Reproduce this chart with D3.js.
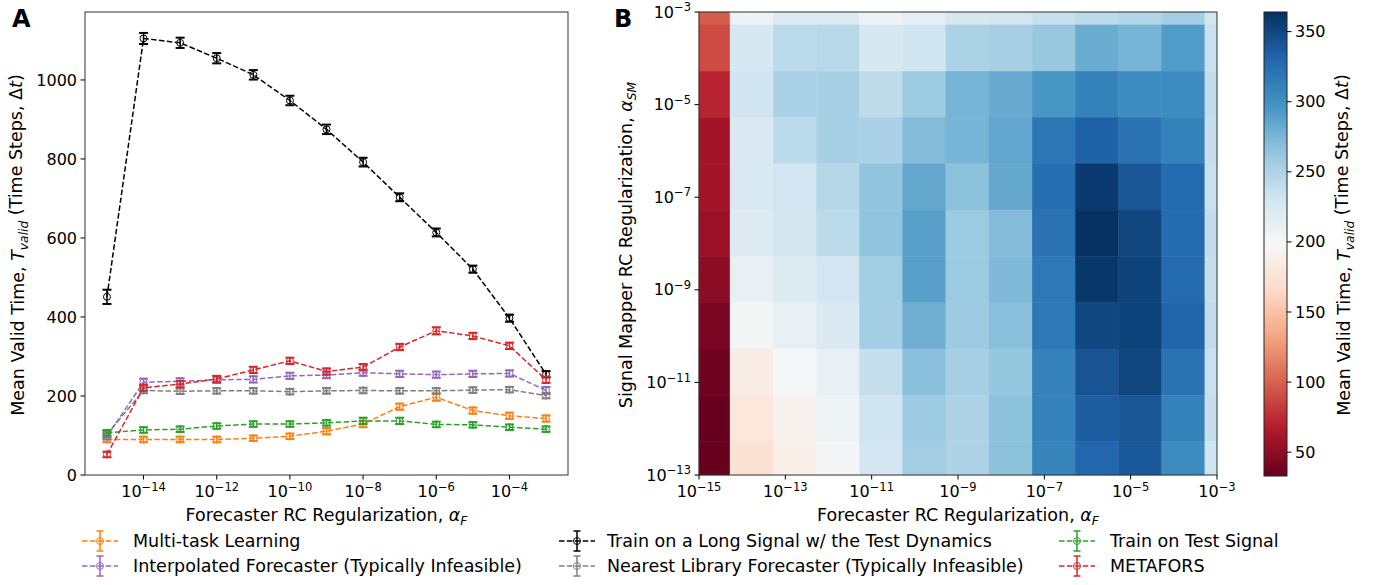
<!DOCTYPE html>
<html>
<head>
<meta charset="utf-8">
<script src="https://cdn.jsdelivr.net/npm/d3@7"></script>
<style>
  body { margin: 0; background: #fff; }
  text { font-family: "DejaVu Sans", sans-serif; fill: #000; }
</style>
</head>
<body>
<script>
// forecaster regularization exponents (alpha_F = 10^e)
const alphaExp = [-15, -14, -13, -12, -11, -10, -9, -8, -7, -6, -5, -4, -3];

// panel A series (mean valid time) and error bars
const multiTask = [90, 90, 90, 90, 93, 98, 111, 129, 173, 197, 163, 150, 143];
const multiTaskErr = [7, 7, 7, 7, 7, 7, 8, 8, 8, 9, 8, 8, 8];
const interpolated = [98, 235, 237, 241, 242, 251, 253, 259, 256, 254, 256, 257, 214];
const interpolatedErr = [8, 9, 8, 8, 8, 8, 8, 8, 8, 8, 8, 8, 9];
const longSignal = [451, 1105, 1094, 1055, 1013, 948, 875, 792, 703, 614, 521, 397, 255];
const longSignalErr = [18, 14, 13, 13, 12, 12, 12, 11, 10, 10, 9, 9, 8];
const nearestLib = [103, 214, 212, 213, 213, 211, 213, 214, 213, 213, 215, 216, 201];
const nearestLibErr = [8, 7, 7, 7, 7, 7, 7, 7, 7, 7, 7, 7, 7];
const testSignal = [107, 114, 116, 124, 129, 129, 132, 137, 137, 128, 127, 121, 116];
const testSignalErr = [7, 7, 7, 7, 7, 7, 7, 8, 8, 7, 7, 7, 7];
const metafors = [52, 221, 230, 243, 266, 289, 262, 273, 324, 365, 352, 327, 241];
const metaforsErr = [7, 8, 8, 8, 8, 8, 8, 8, 8, 9, 8, 8, 8];

const seriesNames = [
  'Multi-task Learning',
  'Interpolated Forecaster (Typically Infeasible)',
  'Train on a Long Signal w/ the Test Dynamics',
  'Nearest Library Forecaster (Typically Infeasible)',
  'Train on Test Signal',
  'METAFORS'
];
const seriesColors = ['#ff7f0e', '#9467bd', '#000000', '#7f7f7f', '#2ca02c', '#d62728'];
const yTicksA = [0, 200, 400, 600, 800, 1000];
const xTicksA = [-14, -12, -10, -8, -6, -4];

// panel B: signal mapper exponents (rows, top to bottom) and heat values
const smExp = [-3, -4, -5, -6, -7, -8, -9, -10, -11, -12, -13];
const heat = [
  [98, 207, 222, 222, 208, 215, 226, 230, 237, 243, 248, 255, 230],
  [90, 227, 243, 245, 226, 232, 251, 254, 262, 281, 276, 292, 236],
  [71, 232, 252, 253, 241, 259, 276, 282, 296, 311, 302, 304, 240],
  [60, 224, 243, 253, 252, 271, 276, 285, 319, 334, 322, 311, 238],
  [60, 225, 231, 246, 264, 284, 267, 283, 324, 358, 340, 327, 236],
  [55, 220, 230, 243, 265, 289, 260, 271, 323, 364, 351, 327, 240],
  [49, 212, 221, 231, 256, 289, 260, 272, 318, 360, 353, 327, 238],
  [41, 201, 211, 224, 255, 279, 258, 268, 318, 350, 353, 332, 240],
  [36, 186, 200, 212, 238, 268, 254, 263, 311, 342, 351, 322, 236],
  [33, 179, 193, 206, 232, 259, 250, 267, 311, 336, 341, 311, 238],
  [33, 174, 188, 202, 229, 256, 250, 267, 309, 330, 339, 304, 232]
];
const xTicksB = [-15, -13, -11, -9, -7, -5, -3];
const yTicksB = [-3, -5, -7, -9, -11, -13];
const cbTicks = [50, 100, 150, 200, 250, 300, 350];
const rdbu = ['#67001f', '#b2182b', '#d6604d', '#f4a582', '#fddbc7', '#f7f7f7',
  '#d1e5f0', '#92c5de', '#4393c3', '#2166ac', '#053061'];

const width = 1379;
const height = 585;
const svg = d3.select('body')
  .append('svg')
  .attr('width', width)
  .attr('height', height);

const fs = 16;      // tick labels
const fsLab = 17.5; // axis labels
const fsLeg = 17.5; // legend

// draws "10^e" as text with a raised exponent
function powLabel(sel, e) {
  sel.append('tspan').text('10');
  sel.append('tspan')
    .attr('dy', '-0.55em')
    .style('font-size', '11.5px')
    .text('\u2212' + Math.abs(e));
}

// "name, alpha_sub" label
function alphaLabel(sel, name, sub, size) {
  sel.style('font-size', size + 'px');
  sel.append('tspan').text(name);
  sel.append('tspan').style('font-style', 'italic').text('\u03b1');
  sel.append('tspan').attr('dy', '0.3em')
    .style('font-size', (size * 0.7) + 'px').style('font-style', 'italic').text(sub);
}

function validLabel(sel, size) {
  sel.style('font-size', size + 'px');
  sel.append('tspan').text('Mean Valid Time, ');
  sel.append('tspan').style('font-style', 'italic').text('T');
  sel.append('tspan').attr('dy', '0.3em')
    .style('font-size', (size * 0.7) + 'px').style('font-style', 'italic').text('valid');
  sel.append('tspan').attr('dy', '-0.3em').text(' (Time Steps, \u0394');
  sel.append('tspan').style('font-style', 'italic').text('t');
  sel.append('tspan').text(')');
}

// ---------- Panel A ----------
const A = { l: 85, r: 568, t: 12, b: 475 };
const xA = d3.scaleLinear().domain([-15.6, -2.4]).range([A.l, A.r]);
const yA = d3.scaleLinear().domain([0, 1172]).range([A.b, A.t]);

const gA = svg.append('g');

const seriesData = [
  [multiTask, multiTaskErr],
  [interpolated, interpolatedErr],
  [longSignal, longSignalErr],
  [nearestLib, nearestLibErr],
  [testSignal, testSignalErr],
  [metafors, metaforsErr]
];

const line = d3.line()
  .x(d => xA(d.e))
  .y(d => yA(d.v));

seriesData.forEach((s, i) => {
  const pts = alphaExp.map((e, j) => ({ e: e, v: s[0][j], err: s[1][j] }));
  const col = seriesColors[i];
  const g = gA.append('g');
  g.append('path')
    .datum(pts)
    .attr('d', line)
    .attr('fill', 'none')
    .attr('stroke', col)
    .attr('stroke-width', 1.5)
    .attr('stroke-dasharray', '5.5,2.4');
  const eb = g.selectAll('.eb').data(pts).enter().append('g');
  eb.append('line')
    .attr('x1', d => xA(d.e)).attr('x2', d => xA(d.e))
    .attr('y1', d => yA(d.v - d.err)).attr('y2', d => yA(d.v + d.err))
    .attr('stroke', col).attr('stroke-width', 1.5);
  [-1, 1].forEach(sgn => {
    eb.append('line')
      .attr('x1', d => xA(d.e) - 4.5).attr('x2', d => xA(d.e) + 4.5)
      .attr('y1', d => yA(d.v + sgn * d.err)).attr('y2', d => yA(d.v + sgn * d.err))
      .attr('stroke', col).attr('stroke-width', 2);
  });
  eb.append('circle')
    .attr('cx', d => xA(d.e))
    .attr('cy', d => yA(d.v))
    .attr('r', 3.5)
    .attr('fill', 'none')
    .attr('stroke', col)
    .attr('stroke-width', 1);
});

// frame
gA.append('rect')
  .attr('x', A.l).attr('y', A.t)
  .attr('width', A.r - A.l).attr('height', A.b - A.t)
  .attr('fill', 'none').attr('stroke', '#333').attr('stroke-width', 1);

// y ticks
const ytA = gA.selectAll('.yt').data(yTicksA).enter().append('g');
ytA.append('line')
  .attr('x1', A.l - 4.5).attr('x2', A.l)
  .attr('y1', d => yA(d)).attr('y2', d => yA(d))
  .attr('stroke', '#000');
ytA.append('text')
  .attr('x', A.l - 8).attr('y', d => yA(d)).attr('dy', '0.35em')
  .attr('text-anchor', 'end').style('font-size', fs + 'px')
  .text(d => d);

// x ticks
const xtA = gA.selectAll('.xt').data(xTicksA).enter().append('g');
xtA.append('line')
  .attr('x1', d => xA(d)).attr('x2', d => xA(d))
  .attr('y1', A.b).attr('y2', A.b + 4.5)
  .attr('stroke', '#000');
xtA.append('text')
  .attr('x', d => xA(d)).attr('y', A.b + 22)
  .attr('text-anchor', 'middle').style('font-size', fs + 'px')
  .each(function (d) { powLabel(d3.select(this), d); });

// axis labels
gA.append('text')
  .attr('x', (A.l + A.r) / 2).attr('y', 521)
  .attr('text-anchor', 'middle')
  .call(alphaLabel, 'Forecaster RC Regularization, ', 'F', fsLab);

gA.append('text')
  .attr('transform', 'translate(24,245) rotate(-90)')
  .attr('text-anchor', 'middle')
  .call(validLabel, fsLab);

svg.append('text')
  .attr('x', 12).attr('y', 27)
  .style('font-size', '24px').style('font-weight', 'bold')
  .text('A');

// ---------- Panel B ----------
const B = { l: 699, r: 1217, t: 12, b: 475 };
const xB = d3.scaleLinear().domain([-15, -3]).range([B.l, B.r]);
const yB = d3.scaleLinear().domain([-13, -3]).range([B.b, B.t]);
const flat = heat.flat();
const vmin = d3.min(flat);
const vmax = d3.max(flat);
const color = d3.scaleLinear()
  .domain(rdbu.map((c, i) => vmin + (vmax - vmin) * i / (rdbu.length - 1)))
  .range(rdbu)
  .interpolate(d3.interpolateRgb);

// cells span [e - 0.28, e + 0.72] in decades, clipped to the axes
const shift = 0.28;
const clipX = e => Math.max(-15, Math.min(-3, e));
const clipY = e => Math.max(-13, Math.min(-3, e));
const cells = [];
smExp.forEach((sy, r) => {
  alphaExp.forEach((fx, c) => {
    cells.push({ fx: fx, sy: sy, v: heat[r][c] });
  });
});
const gB = svg.append('g');
gB.selectAll('.cell').data(cells).enter().append('rect')
  .attr('x', d => xB(clipX(d.fx - shift)))
  .attr('width', d => xB(clipX(d.fx + 1 - shift)) - xB(clipX(d.fx - shift)))
  .attr('y', d => yB(clipY(d.sy + 1 - shift)))
  .attr('height', d => yB(clipY(d.sy - shift)) - yB(clipY(d.sy + 1 - shift)))
  .attr('fill', d => color(d.v))
  .attr('stroke', d => color(d.v))
  .attr('stroke-width', 0.5);

gB.append('rect')
  .attr('x', B.l).attr('y', B.t)
  .attr('width', B.r - B.l).attr('height', B.b - B.t)
  .attr('fill', 'none').attr('stroke', '#333').attr('stroke-width', 1);

const xtB = gB.selectAll('.xt').data(xTicksB).enter().append('g');
xtB.append('line')
  .attr('x1', d => xB(d)).attr('x2', d => xB(d))
  .attr('y1', B.b).attr('y2', B.b + 4.5)
  .attr('stroke', '#000');
xtB.append('text')
  .attr('x', d => xB(d)).attr('y', B.b + 22)
  .attr('text-anchor', 'middle').style('font-size', fs + 'px')
  .each(function (d) { powLabel(d3.select(this), d); });

const ytB = gB.selectAll('.yt').data(yTicksB).enter().append('g');
ytB.append('line')
  .attr('x1', B.l - 4.5).attr('x2', B.l)
  .attr('y1', d => yB(d)).attr('y2', d => yB(d))
  .attr('stroke', '#000');
ytB.append('text')
  .attr('x', B.l - 8).attr('y', d => yB(d)).attr('dy', '0.35em')
  .attr('text-anchor', 'end').style('font-size', fs + 'px')
  .each(function (d) { powLabel(d3.select(this), d); });

gB.append('text')
  .attr('x', (B.l + B.r) / 2).attr('y', 521)
  .attr('text-anchor', 'middle')
  .call(alphaLabel, 'Forecaster RC Regularization, ', 'F', fsLab);

gB.append('text')
  .attr('transform', 'translate(632,245) rotate(-90)')
  .attr('text-anchor', 'middle')
  .call(alphaLabel, 'Signal Mapper RC Regularization, ', 'SM', fsLab);

svg.append('text')
  .attr('x', 614).attr('y', 27)
  .style('font-size', '24px').style('font-weight', 'bold')
  .text('B');

// ---------- Colorbar ----------
const CB = { l: 1264, r: 1287, t: 12, b: 476 };
const yCB = d3.scaleLinear().domain([vmin, vmax]).range([CB.b, CB.t]);
const grad = svg.append('defs').append('linearGradient')
  .attr('id', 'cbgrad')
  .attr('x1', '0').attr('y1', '1').attr('x2', '0').attr('y2', '0');
rdbu.forEach((c, i) => {
  grad.append('stop')
    .attr('offset', (i / (rdbu.length - 1) * 100) + '%')
    .attr('stop-color', c);
});
svg.append('rect')
  .attr('x', CB.l).attr('y', CB.t)
  .attr('width', CB.r - CB.l).attr('height', CB.b - CB.t)
  .attr('fill', 'url(#cbgrad)')
  .attr('stroke', '#222').attr('stroke-width', 1);
const cbt = svg.selectAll('.cbt').data(cbTicks).enter().append('g');
cbt.append('line')
  .attr('x1', CB.r).attr('x2', CB.r + 4.5)
  .attr('y1', d => yCB(d)).attr('y2', d => yCB(d))
  .attr('stroke', '#000');
cbt.append('text')
  .attr('x', CB.r + 8).attr('y', d => yCB(d)).attr('dy', '0.35em')
  .style('font-size', fs + 'px')
  .text(d => d);
svg.append('text')
  .attr('transform', 'translate(1350,245) rotate(-90)')
  .attr('text-anchor', 'middle')
  .call(validLabel, fsLab);

// ---------- Legend ----------
const legCols = [100, 577, 1077];
const legText = [133, 607, 1110];
const legRows = [541, 566];
seriesNames.forEach((name, i) => {
  const k = Math.floor(i / 2);
  const cx = legCols[k];
  const cy = legRows[i % 2];
  const col = seriesColors[i];
  const g = svg.append('g');
  g.append('line')
    .attr('x1', cx - 18).attr('x2', cx + 18)
    .attr('y1', cy).attr('y2', cy)
    .attr('stroke', col).attr('stroke-width', 1.5)
    .attr('stroke-dasharray', '5.5,2.4');
  g.append('line')
    .attr('x1', cx).attr('x2', cx)
    .attr('y1', cy - 10).attr('y2', cy + 10)
    .attr('stroke', col).attr('stroke-width', 1.5);
  [-10, 10].forEach(o => {
    g.append('line')
      .attr('x1', cx - 3.5).attr('x2', cx + 3.5)
      .attr('y1', cy + o).attr('y2', cy + o)
      .attr('stroke', col).attr('stroke-width', 1.5);
  });
  g.append('circle')
    .attr('cx', cx).attr('cy', cy).attr('r', 3.5)
    .attr('fill', 'none').attr('stroke', col).attr('stroke-width', 1);
  g.append('text')
    .attr('x', legText[k]).attr('y', cy).attr('dy', '0.35em')
    .style('font-size', fsLeg + 'px')
    .text(name);
});
</script>
</body>
</html>
